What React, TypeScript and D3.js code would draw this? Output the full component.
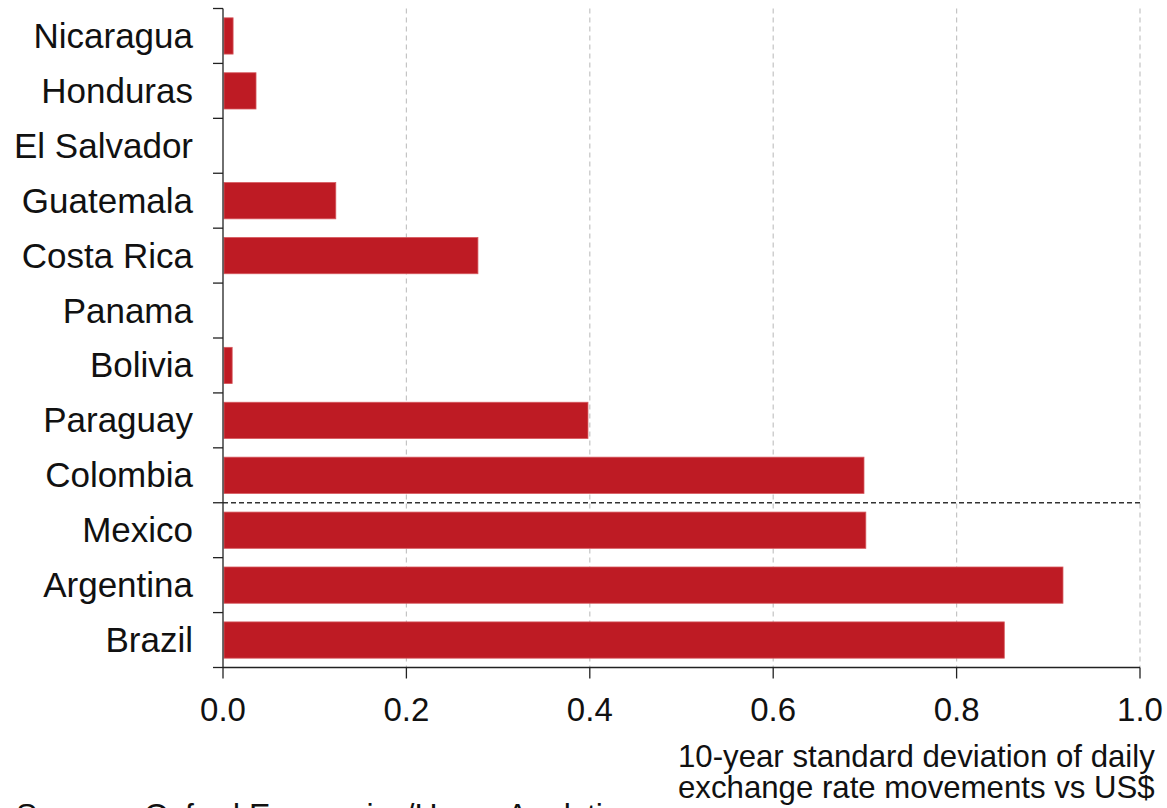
import React from "react";
import * as d3 from "d3";

const categories = [
  "Nicaragua",
  "Honduras",
  "El Salvador",
  "Guatemala",
  "Costa Rica",
  "Panama",
  "Bolivia",
  "Paraguay",
  "Colombia",
  "Mexico",
  "Argentina",
  "Brazil",
];
const values = [0.011, 0.036, 0, 0.123, 0.278, 0, 0.01, 0.398, 0.699, 0.701, 0.916, 0.852];
const xTicks = [0, 0.2, 0.4, 0.6, 0.8, 1.0];
const gridTicks = [0.2, 0.4, 0.6, 0.8, 1.0];
const separatorAfter = "Colombia";
const axisTitle = ["10-year standard deviation of daily", "exchange rate movements vs US$"];
const sourceText = "Source : Oxford Economics/Haver Analytics";

const W = 1167;
const H = 808;
const left = 223;
const right = 1140;
const top = 8.5;
const bottom = 667.5;
const FONT = "'Liberation Sans', Arial, sans-serif";
const BAR = "#BE1B24";
const TEXT = "#111";

export default function App() {
  const x = d3.scaleLinear().domain([0, 1]).range([left, right]);
  const y = d3
    .scaleBand<string>()
    .domain(categories)
    .range([top, bottom])
    .paddingInner(0.34)
    .paddingOuter(0.17);
  const step = y.step();
  const boundaries = d3.range(categories.length + 1).map((i) => top + i * step);
  const sepY = top + (categories.indexOf(separatorAfter) + 1) * step;

  return (
    <svg
      width={W}
      height={H}
      style={{ position: "absolute", left: 0, top: 0, background: "#fff", overflow: "hidden" }}
      fontFamily={FONT}
    >
      <rect x={0} y={0} width={W} height={H} fill="#fff" />
      {/* grid */}
      {gridTicks.map((t) => (
        <line
          key={"g" + t}
          x1={x(t)}
          x2={x(t)}
          y1={top}
          y2={bottom}
          stroke="#c4c4c4"
          strokeWidth={1.2}
          strokeDasharray="5,4"
        />
      ))}
      {/* bars */}
      {categories.map((c, i) =>
        values[i] > 0 ? (
          <rect
            key={c}
            x={x(0) + 1}
            y={y(c)!}
            width={x(values[i]) - x(0) - 1}
            height={y.bandwidth()}
            fill={BAR}
            stroke="#d6585d"
            strokeWidth={0.8}
          />
        ) : null
      )}
      {/* separator */}
      <line
        x1={left}
        x2={right}
        y1={sepY}
        y2={sepY}
        stroke="#333"
        strokeWidth={1.3}
        strokeDasharray="5,3"
      />
      {/* y axis */}
      <line x1={left} x2={left} y1={top} y2={bottom} stroke="#222" strokeWidth={1.3} />
      {boundaries.map((b, i) => (
        <line key={"yt" + i} x1={left - 10} x2={left} y1={b} y2={b} stroke="#222" strokeWidth={1.3} />
      ))}
      {categories.map((c) => (
        <text
          key={"l" + c}
          x={193}
          y={y(c)! + y.bandwidth() / 2 + 12}
          textAnchor="end"
          fontSize={35}
          fill={TEXT}
        >
          {c}
        </text>
      ))}
      {/* x axis */}
      <line x1={left} x2={right} y1={bottom} y2={bottom} stroke="#222" strokeWidth={1.3} />
      {xTicks.map((t) => (
        <g key={"xt" + t}>
          <line x1={x(t)} x2={x(t)} y1={bottom} y2={bottom + 11} stroke="#222" strokeWidth={1.3} />
          <text x={x(t)} y={721} textAnchor="middle" fontSize={33} fill={TEXT}>
            {d3.format(".1f")(t)}
          </text>
        </g>
      ))}
      {/* axis title */}
      {axisTitle.map((line, i) => (
        <text key={"at" + i} x={678} y={767 + i * 30.5} fontSize={31.2} fill={TEXT}>
          {line}
        </text>
      ))}
      {/* source (cut off at the bottom edge, as in the reference) */}
      <text x={16} y={826} fontSize={32} fill={TEXT}>
        {sourceText}
      </text>
    </svg>
  );
}
